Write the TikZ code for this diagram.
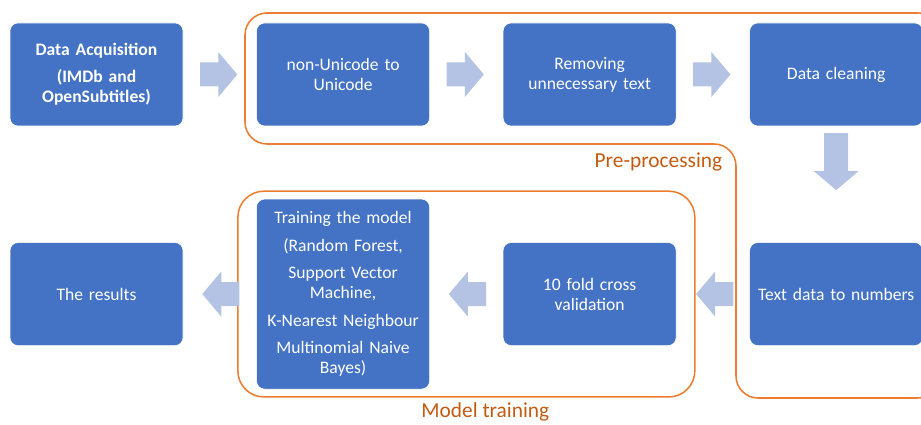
\documentclass[tikz,border=0pt]{standalone}
\usepackage{fontspec}
\setmainfont{Carlito}
\usetikzlibrary{positioning, calc, fit}
\definecolor{stepblue}{HTML}{4472C4}
\definecolor{arrowblue}{HTML}{B4C3E3}
\definecolor{frameorange}{HTML}{ED7D31}
\definecolor{labelorange}{HTML}{C55A11}
\tikzset{
    node distance=1.825cm and 1.825cm,
    flow_step/.style={
        rectangle,
        rounded corners=0.2cm,
        draw=white,
        fill=stepblue,
        minimum width=4.325cm,
        minimum height=2.575cm,
        text width=4.1cm,
        inner sep=0pt,
        align=center,
        text=white,
        font=\fontsize{12.5}{14.2}\selectfont
    },
    flow_arrow/.style={
        fill=arrowblue,
        draw=none
    },
    flow_frame/.style={
        draw=frameorange,
        line width=1.1pt
    },
    flow_label/.style={
        text=labelorange,
        font=\fontsize{15.2}{17}\selectfont
    }
}
% block arrow between two anchors, from fraction #3 to fraction #4 of the gap
\newcommand{\flowarrow}[4]{
    \coordinate (fa-s) at ($(#1)!#3!(#2)$);
    \coordinate (fa-t) at ($(#1)!#4!(#2)$);
    \coordinate (fa-h) at ($(fa-t)!0.475cm!(fa-s)$);
    \fill[flow_arrow] ($(fa-s)!0.3cm!90:(fa-t)$) -- ($(fa-h)!0.3cm!90:(fa-t)$)
        -- ($(fa-h)!0.5625cm!90:(fa-t)$) -- (fa-t)
        -- ($(fa-h)!0.5625cm!-90:(fa-t)$) -- ($(fa-h)!0.3cm!-90:(fa-t)$)
        -- ($(fa-s)!0.3cm!-90:(fa-t)$) -- cycle;
}

\begin{document}
\begin{tikzpicture}

\useasboundingbox (0,0) rectangle (23.025,-10.625);
\clip (0,0) rectangle (23.025,-10.625);

% top row
\node[flow_step] (acq) at (2.4125,-1.8625)
  {\textbf{Data Acquisition}\\[5pt]\textbf{(IMDb and}\\\textbf{OpenSubtitles)}};
\node[flow_step, right=of acq] (unicode) {non-Unicode to\\Unicode};
\node[flow_step, right=of unicode] (removing) {Removing\\unnecessary text};
\node[flow_step, right=of removing] (clean) {Data cleaning};

% bottom row, right to left
\node[flow_step, below=2.9cm of clean] (textnum) {Text data to numbers};
\node[flow_step, left=of textnum] (cv) {10 fold cross\\validation};
\node[flow_step, left=of cv, minimum height=4.75cm] (training)
  {Training the model\\[5.3pt](Random Forest,\\[5.3pt]Support Vector\\Machine,\\[5.3pt]K-Nearest Neighbour\\[5.3pt]Multinomial Naive\\Bayes)};
\node[flow_step, left=of training] (results) {The results};

% groups
\draw[flow_frame, rounded corners=0.55cm]
  (23.5,-0.325) -- (6.125,-0.325) -- (6.125,-3.6) -- (18.4,-3.6)
  -- (18.4,-9.95) -- (23.5,-9.95) -- cycle;
\node[flow_label, anchor=east] (prelabel) at (18.18,-4.05) {Pre-processing};

\node[flow_frame, rounded corners=0.65cm, fit=(training)(cv),
  inner xsep=0.46cm, inner ysep=0.19cm] (trainframe) {};
\node[flow_label, below=0pt of trainframe, xshift=0.475cm] (trainlabel) {Model training};

% flow
\flowarrow{acq.east}{unicode.west}{0.23}{0.74}
\flowarrow{unicode.east}{removing.west}{0.23}{0.74}
\flowarrow{removing.east}{clean.west}{0.23}{0.74}
\flowarrow{clean.south}{textnum.north}{0.06}{0.55}
\flowarrow{textnum.west}{cv.east}{0.22}{0.73}
\flowarrow{cv.west}{training.east}{0.23}{0.74}
\flowarrow{training.west}{results.east}{0.23}{0.74}

\end{tikzpicture}
\end{document}
